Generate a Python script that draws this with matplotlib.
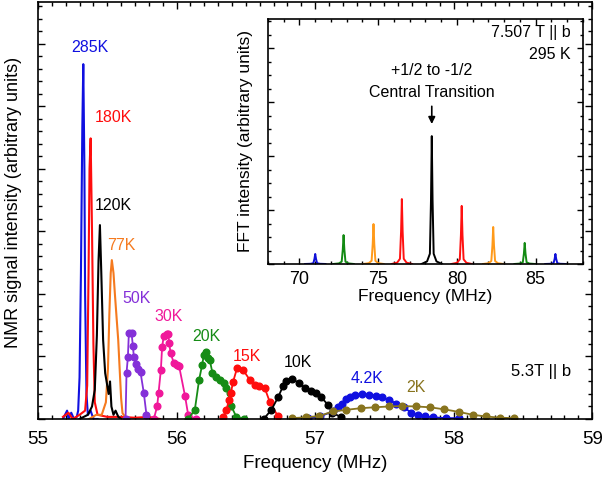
import matplotlib
matplotlib.use("Agg")
import matplotlib.pyplot as plt
from matplotlib.ticker import MultipleLocator, NullFormatter

plt.rcParams['font.family'] = ['Liberation Sans', 'DejaVu Sans']

# ---- main panel data (frequency in MHz, intensity in arbitrary units) ----
f_285 = [55.18, 55.21, 55.22, 55.24, 55.26, 55.28, 55.29, 55.30, 55.31, 55.32, 55.327,
         55.335, 55.34, 55.35, 55.36, 55.38, 55.40, 55.43]
h_285 = [0, 0.02, 0, 0.015, 0, 0.005, 0.02, 0.10, 0.35, 0.70, 0.851,
         0.60, 0.30, 0.06, 0.01, 0.02, 0, 0]

f_180 = [55.18, 55.22, 55.25, 55.30, 55.34, 55.355, 55.365, 55.372, 55.38, 55.39, 55.40,
         55.41, 55.43, 55.50, 55.60, 55.70, 55.80, 55.88]
h_180 = [0.005, 0.015, 0, 0.01, 0.02, 0.08, 0.35, 0.60, 0.673, 0.45, 0.18,
         0.04, 0.01, 0.005, 0.005, 0.003, 0.005, 0]

f_120 = [55.30, 55.36, 55.39, 55.41, 55.425, 55.437, 55.447, 55.457, 55.47, 55.485,
         55.50, 55.51, 55.52, 55.53, 55.545, 55.56, 55.58, 55.60]
h_120 = [0, 0.01, 0.03, 0.07, 0.20, 0.38, 0.465, 0.35, 0.19, 0.11,
         0.08, 0.06, 0.09, 0.03, 0.01, 0.02, 0.005, 0]

f_77 = [55.37, 55.42, 55.46, 55.49, 55.505, 55.515, 55.525, 55.533, 55.545, 55.555,
        55.568, 55.579, 55.591, 55.60, 55.61, 55.64]
h_77 = [0, 0.01, 0.01, 0.04, 0.12, 0.25, 0.35, 0.381, 0.35, 0.30,
        0.24, 0.19, 0.11, 0.05, 0.014, 0]

f_50 = [55.632, 55.639, 55.649, 55.656, 55.675, 55.685, 55.692, 55.704, 55.721, 55.740,
        55.764, 55.783]
h_50 = [0, 0.110, 0.149, 0.207, 0.207, 0.175, 0.149, 0.132, 0.119, 0.112, 0.062, 0.01]

f_30 = [55.836, 55.860, 55.870, 55.887, 55.896, 55.908, 55.928, 55.940, 55.947, 55.957,
        55.981, 56.000, 56.019, 56.062, 56.084, 56.137]
h_30 = [0, 0.03, 0.062, 0.118, 0.173, 0.199, 0.204, 0.204, 0.182, 0.158,
        0.134, 0.130, 0.126, 0.054, 0.01, 0]

f_20 = [56.084, 56.132, 56.163, 56.185, 56.197, 56.211, 56.226, 56.240, 56.259, 56.288,
        56.317, 56.341, 56.360, 56.384, 56.396, 56.432, 56.485]
h_20 = [0, 0.022, 0.094, 0.13, 0.153, 0.161, 0.146, 0.141, 0.111, 0.101,
        0.094, 0.086, 0.074, 0.062, 0.03, 0.005, 0]

f_15 = [56.336, 56.360, 56.379, 56.392, 56.408, 56.437, 56.480, 56.528, 56.565, 56.596,
        56.637, 56.673, 56.733]
h_15 = [0.004, 0.022, 0.046, 0.062, 0.089, 0.122, 0.118, 0.094, 0.082, 0.079,
        0.074, 0.041, 0.006]

f_10 = [56.629, 56.685, 56.733, 56.769, 56.788, 56.836, 56.884, 56.927, 56.968, 57.004,
        57.045, 57.093, 57.125, 57.190]
h_10 = [0, 0.022, 0.052, 0.079, 0.091, 0.096, 0.086, 0.074, 0.068, 0.062,
        0.052, 0.034, 0.015, 0.004]

f_4 = [56.95, 57.033, 57.129, 57.165, 57.197, 57.226, 57.255, 57.286, 57.338, 57.389,
       57.437, 57.485, 57.533, 57.586, 57.641, 57.694, 57.742, 57.797, 57.850, 57.946, 58.038]
h_4 = [0.002, 0.006, 0.018, 0.028, 0.037, 0.047, 0.053, 0.058, 0.060, 0.058,
       0.056, 0.052, 0.046, 0.037, 0.028, 0.015, 0.010, 0.006, 0.004, 0.002, 0.002]

f_2 = [56.836, 56.932, 57.028, 57.129, 57.226, 57.334, 57.430, 57.533, 57.629, 57.730,
       57.831, 57.934, 58.038, 58.138, 58.235, 58.338, 58.439]
h_2 = [0.002, 0.004, 0.007, 0.018, 0.022, 0.026, 0.028, 0.030, 0.031, 0.030,
       0.028, 0.023, 0.017, 0.010, 0.006, 0.003, 0.002]

# label text and where it sits (freq, intensity)
temp_labels = ["285K", "180K", "120K", "77K", "50K", "30K", "20K", "15K", "10K", "4.2K", "2K"]
label_f = [55.375, 55.541, 55.545, 55.598, 55.709, 55.944, 56.218, 56.510, 56.877, 57.376, 57.730]
label_h = [0.892, 0.724, 0.511, 0.417, 0.290, 0.245, 0.197, 0.151, 0.135, 0.096, 0.075]

# ---- inset data: satellite lines at 7.507 T, 295 K ----
inset_f = [71.0, 72.8, 74.7, 76.5, 78.4, 80.3, 82.3, 84.3, 86.25]
inset_h = [0.041, 0.118, 0.163, 0.265, 0.522, 0.237, 0.151, 0.086, 0.041]
inset_colors = ["#1010d8", "#138a13", "#ff9a1a", "#ff1010", "black",
                "#ff1010", "#ff9a1a", "#138a13", "#1010d8"]
# line profile of one peak (offset in MHz, fraction of peak height)
peak_dx = [-0.65, -0.3, -0.12, -0.05, 0.0, 0.05, 0.12, 0.3, 0.65]
peak_rel = [0, 0.02, 0.08, 0.5, 1.0, 0.5, 0.08, 0.02, 0]

blue = "#1010e0"
red = "#ff0d0d"
orange = "#f57a1f"
purple = "#8430d8"
pink = "#f0189a"
green = "#168c16"
gold = "#88741e"

fig = plt.figure(figsize=(6.03, 4.79), dpi=100)
ax = fig.add_axes([0.063, 0.1253, 0.919, 0.8705])

ax.plot(f_285, h_285, color=blue, lw=1.5)
ax.plot(f_180, h_180, color=red, lw=1.5)
ax.plot(f_77, h_77, color=orange, lw=1.5)
ax.plot(f_120, h_120, color="black", lw=1.5)

mk = dict(marker="o", ms=4.8, lw=1.3)
ax.plot(f_50, h_50, color=purple, **mk)
ax.plot(f_30, h_30, color=pink, **mk)
ax.plot(f_20, h_20, color=green, **mk)
ax.plot(f_15, h_15, color=red, **mk)
ax.plot(f_10, h_10, color="black", **mk)
ax.plot(f_4, h_4, color=blue, **mk)
ax.plot(f_2, h_2, color=gold, **mk)

label_colors = [blue, red, "black", orange, purple, pink, green, red, "black", blue, gold]
for txt, x, y, c in zip(temp_labels, label_f, label_h, label_colors):
    ax.text(x, y, txt, color=c, fontsize=11.5, ha="center", va="center")

ax.text(58.85, 0.115, "5.3T || b", fontsize=12, ha="right", va="center")

ax.set_xlim(55, 59)
ax.set_ylim(0, 1)
ax.xaxis.set_major_locator(MultipleLocator(1))
ax.xaxis.set_minor_locator(MultipleLocator(0.1))
ax.yaxis.set_major_locator(MultipleLocator(0.15))
ax.yaxis.set_minor_locator(MultipleLocator(0.03))
ax.yaxis.set_major_formatter(NullFormatter())
ax.tick_params(which="both", direction="in", top=True, right=True, labelsize=13.5, width=1)
ax.tick_params(which="major", length=5, pad=9)
ax.tick_params(which="minor", length=3)
for s in ax.spines.values():
    s.set_linewidth(1.2)
ax.set_xlabel("Frequency (MHz)", fontsize=13.5, labelpad=5)
ax.set_ylabel("NMR signal intensity (arbitrary units)", fontsize=13)
ax.yaxis.set_label_coords(-0.028, 0.52)

# ---- inset ----
ins = fig.add_axes([0.4444, 0.4489, 0.5224, 0.5114])
for c, h, col in zip(inset_f, inset_h, inset_colors):
    ins.plot([c + d for d in peak_dx], [h * r for r in peak_rel], color=col, lw=1.4)

ins.annotate("", xy=(78.4, 0.56), xytext=(78.4, 0.655),
             arrowprops=dict(arrowstyle="-|>", color="black", lw=1.2,
                             mutation_scale=10))
ins.text(78.4, 0.788, "+1/2 to -1/2", fontsize=11.5, ha="center", va="center")
ins.text(78.4, 0.698, "Central Transition", fontsize=11.5, ha="center", va="center")
ins.text(87.2, 0.945, "7.507 T || b", fontsize=11.5, ha="right", va="center")
ins.text(87.2, 0.855, "295 K", fontsize=11.5, ha="right", va="center")

ins.set_xlim(68, 88)
ins.set_ylim(0, 1)
ins.xaxis.set_major_locator(MultipleLocator(5))
ins.xaxis.set_minor_locator(MultipleLocator(1))
ins.yaxis.set_major_locator(MultipleLocator(0.22))
ins.yaxis.set_minor_locator(MultipleLocator(0.055))
ins.yaxis.set_major_formatter(NullFormatter())
ins.tick_params(which="both", direction="in", top=True, right=True, labelsize=13, width=1)
ins.tick_params(which="major", length=4, pad=5)
ins.tick_params(which="minor", length=2)
for s in ins.spines.values():
    s.set_linewidth(1.2)
ins.set_xlabel("Frequency (MHz)", fontsize=12.5, labelpad=1)
ins.set_ylabel("FFT intensity (arbitrary units)", fontsize=12.5, labelpad=6)

fig.savefig("out.png", dpi=100)
